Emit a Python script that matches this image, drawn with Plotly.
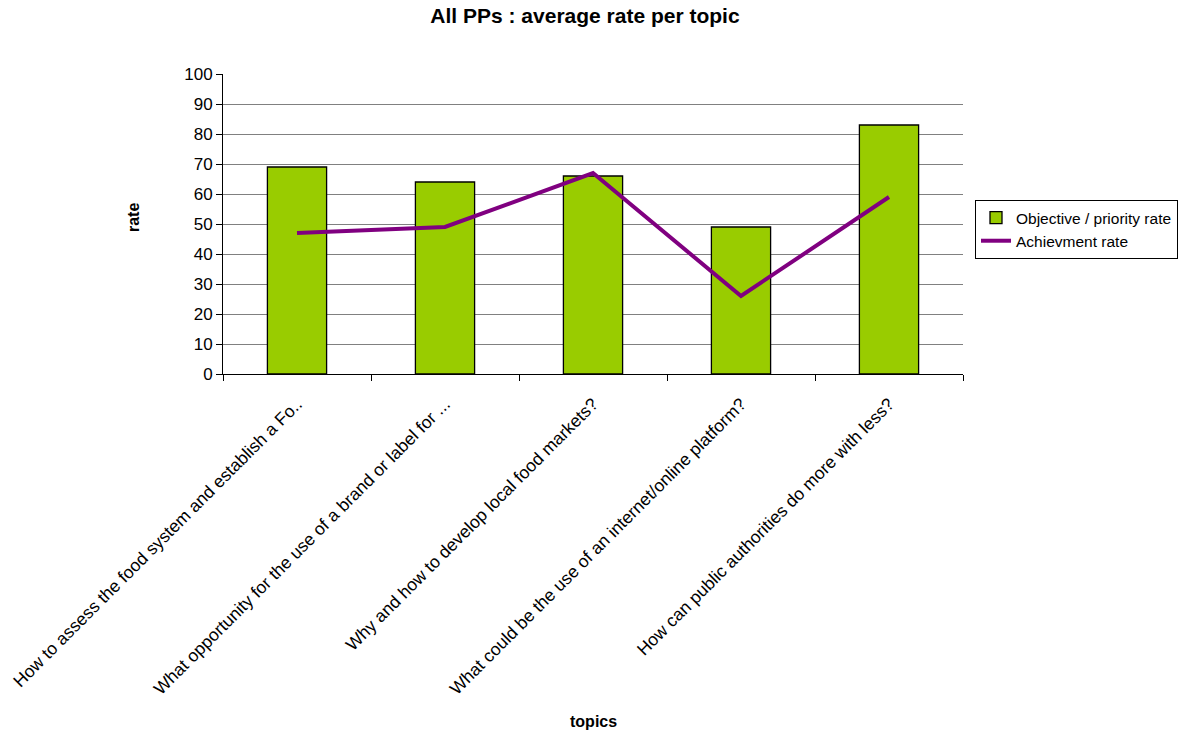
import plotly.graph_objects as go

topics = [
    "How to assess the food system and establish a Fo..",
    "What opportunity for the use of a brand or label for ...",
    "Why and how to develop local food markets?",
    "What could be the use of an internet/online platform?",
    "How can public authorities do more with less?",
]
objective_rate = [69, 64, 66, 49, 83]
achievement_rate = [47, 49, 67, 26, 59]
y_ticks = [0, 10, 20, 30, 40, 50, 60, 70, 80, 90, 100]

FONT = "Liberation Sans, Arial, sans-serif"

W, H = 1200, 735
L, R, T, B = 223, 237, 74, 361
pw = W - L - R
ph = H - T - B

fig = go.Figure()
fig.add_trace(go.Bar(
    x=topics, y=objective_rate, name="Objective / priority rate",
    marker=dict(color="#99CC00", line=dict(color="black", width=1.3)),
))
fig.add_trace(go.Scatter(
    x=topics, y=achievement_rate, name="Achievment rate", mode="lines",
    line=dict(color="#800080", width=4),
))

fig.update_layout(
    width=W, height=H,
    margin=dict(l=L, r=R, t=T, b=B, autoexpand=False),
    paper_bgcolor="white", plot_bgcolor="white",
    font=dict(family=FONT, size=16, color="black"),
    bargap=0.6,
    showlegend=True,
    title=dict(text="<b>All PPs : average rate per topic</b>", x=585 / W, xanchor="center",
               xref="container", yref="container",
               y=1 - 16 / H, yanchor="middle", font=dict(size=21, family=FONT)),
    legend=dict(x=975 / W, y=1 - 200 / H, xref="container", yref="container",
                xanchor="left", yanchor="top",
                bordercolor="black", borderwidth=1, font=dict(size=15.5, family=FONT),
                tracegroupgap=0, itemwidth=30),
    xaxis=dict(
        tickangle=-45, showline=True, linecolor="black", linewidth=1,
        ticks="outside", ticklen=6, tickcolor="black", tickson="boundaries",
        showgrid=False, tickfont=dict(size=17.5, family=FONT),
        ticklabelstandoff=12, automargin=False,
    ),
    yaxis=dict(
        range=[0, 100], tickvals=y_ticks, showline=True, linecolor="black", linewidth=1,
        ticks="outside", ticklen=6, tickcolor="black",
        showgrid=True, gridcolor="#808080", gridwidth=1,
        tickfont=dict(size=17, family=FONT), zeroline=False, automargin=False,
    ),
    annotations=[
        dict(text="<b>rate</b>", x=(133 - L) / pw, y=(T + ph - 218) / ph,
             xref="paper", yref="paper", xanchor="center", yanchor="middle",
             showarrow=False, textangle=-90, font=dict(size=16, family=FONT)),
        dict(text="<b>topics</b>", x=(593 - L) / pw, y=(T + ph - 721) / ph,
             xref="paper", yref="paper", xanchor="center", yanchor="middle",
             showarrow=False, font=dict(size=16, family=FONT)),
    ],
)

fig.write_html("out.html")
